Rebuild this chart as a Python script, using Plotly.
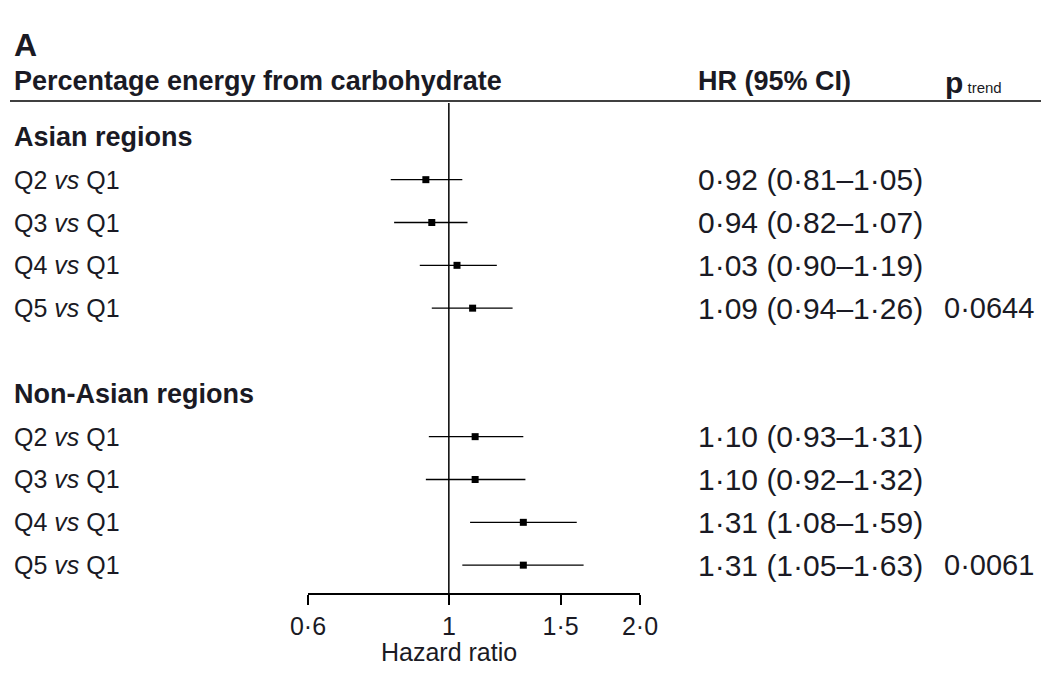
import plotly.graph_objects as go

# forest plot, percentage energy from carbohydrate
row_labels = ["Q2 vs Q1", "Q3 vs Q1", "Q4 vs Q1", "Q5 vs Q1"]
group_names = ["Asian regions", "Non-Asian regions"]

asian_hr = [0.92, 0.94, 1.03, 1.09]
asian_lo = [0.81, 0.82, 0.90, 0.94]
asian_hi = [1.05, 1.07, 1.19, 1.26]
asian_p = "0·0644"

nonasian_hr = [1.10, 1.10, 1.31, 1.31]
nonasian_lo = [0.93, 0.92, 1.08, 1.05]
nonasian_hi = [1.31, 1.32, 1.59, 1.63]
nonasian_p = "0·0061"

tick_vals = [0.6, 1, 1.5, 2.0]
tick_text = ["0·6", "1", "1·5", "2·0"]

FONT = "Liberation Sans Narrow, Arial Narrow, Liberation Sans, sans-serif"
INK = "#1a1a24"
W, H = 1049, 673
OFF = 8  # page body margin shifts everything by this much
TOP, BOT = 103 - OFF, 593 - OFF
PH = BOT - TOP


def fmt(v):
    return f"{v:.2f}".replace(".", "·")


def px(x):
    return (x - OFF) / W


fig = go.Figure()
annots = []

groups = [
    (0, asian_hr, asian_lo, asian_hi, asian_p),
    (6, nonasian_hr, nonasian_lo, nonasian_hi, nonasian_p),
]
for gi, (start, hr, lo, hi, p) in enumerate(groups):
    ys = [start + 1 + i for i in range(len(hr))]
    fig.add_trace(go.Scatter(
        x=hr, y=ys, mode="markers",
        marker=dict(symbol="square", size=7, color="black"),
        error_x=dict(type="data", symmetric=False,
                     array=[h - m for h, m in zip(hi, hr)],
                     arrayminus=[m - l for m, l in zip(hr, lo)],
                     color="black", thickness=1.3, width=0),
        showlegend=False, hoverinfo="skip",
    ))
    annots.append(dict(x=px(12), y=start, text="<b>" + group_names[gi] + "</b>",
                       font=dict(size=27)))
    for i, y in enumerate(ys):
        annots.append(dict(x=px(12), y=y, text=row_labels[i].replace("vs", "<i>vs</i>"),
                           font=dict(size=25)))
        annots.append(dict(x=px(696), y=y,
                           text=f"{fmt(hr[i])} ({fmt(lo[i])}–{fmt(hi[i])})",
                           font=dict(size=30)))
    annots.append(dict(x=px(942), y=ys[-1], text=p, font=dict(size=29)))

for a in annots:
    a.update(xref="paper", yref="y", xanchor="left", yanchor="middle", showarrow=False)

# headers
annots += [
    dict(x=px(12), y=1 + 58 / PH, xref="paper", yref="paper", text="<b>A</b>",
         font=dict(size=32)),
    dict(x=px(12), y=1 + 22 / PH, xref="paper", yref="paper",
         text="<b>Percentage energy from carbohydrate</b>", font=dict(size=27)),
    dict(x=px(696), y=1 + 22 / PH, xref="paper", yref="paper",
         text="<b>HR (95% CI)</b>", font=dict(size=27)),
    dict(x=px(943), y=1 + 20 / PH, xref="paper", yref="paper",
         text="<b>p</b><span style='font-size:15px'> trend</span>", font=dict(size=30)),
]
for a in annots[-4:]:
    a.update(xanchor="left", yanchor="middle", showarrow=False)
annots.append(dict(x=0, y=-59 / PH, xref="x", yref="paper", text="Hazard ratio",
                   font=dict(size=25), xanchor="center", yanchor="middle",
                   showarrow=False))

fig.add_shape(type="line", xref="paper", yref="paper", x0=px(10), x1=px(1042),
              y0=1 + 2 / PH, y1=1 + 2 / PH, line=dict(color="black", width=1.5))
fig.add_shape(type="line", xref="x", yref="paper", x0=1, x1=1, y0=0, y1=1,
              line=dict(color="black", width=1.5))

fig.update_layout(
    width=W, height=H,
    margin=dict(l=0, r=0, t=TOP, b=H - BOT, autoexpand=False),
    paper_bgcolor="white", plot_bgcolor="white",
    font=dict(family=FONT, color=INK, size=25),
    annotations=annots,
    xaxis=dict(type="log", domain=[px(308), px(640)],
               range=[-0.2218, 0.3010],
               tickvals=tick_vals, ticktext=tick_text,
               ticks="outside", ticklen=10, tickwidth=1.5, tickcolor="black",
               showline=True, linecolor="black", linewidth=1.5,
               showgrid=False, zeroline=False, tickfont=dict(size=25)),
    yaxis=dict(range=[10.65, -0.79], visible=False, showgrid=False, zeroline=False),
)

fig.write_html("out.html")
